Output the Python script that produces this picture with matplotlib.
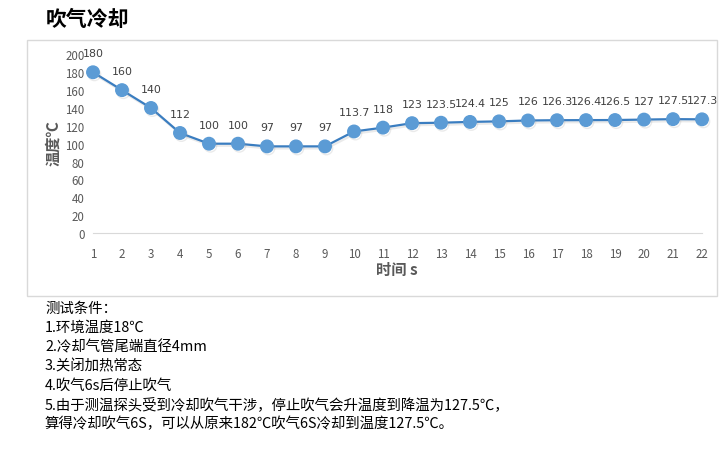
import matplotlib
matplotlib.use("Agg")
import matplotlib.pyplot as plt
import matplotlib.patheffects as pe
from matplotlib.patches import Rectangle

plt.rcParams['font.family'] = ['Noto Sans CJK SC', 'DejaVu Sans']

# data
seconds = list(range(1, 23))
temps = [180, 160, 140, 112, 100, 100, 97, 97, 97, 113.7, 118, 123, 123.5,
         124.4, 125, 126, 126.3, 126.4, 126.5, 127, 127.5, 127.3]
labels = ['180', '160', '140', '112', '100', '100', '97', '97', '97', '113.7',
          '118', '123', '123.5', '124.4', '125', '126', '126.3', '126.4',
          '126.5', '127', '127.5', '127.3']
y_ticks = list(range(0, 201, 20))

title = '吹气冷却'
notes = [
    '测试条件：',
    '1.环境温度18℃',
    '2.冷却气管尾端直径4mm',
    '3.关闭加热常态',
    '4.吹气6s后停止吹气',
    '5.由于测温探头受到冷却吹气干涉，停止吹气会升温度到降温为127.5℃，',
    '算得冷却吹气6S，可以从原来182℃吹气6S冷却到温度127.5℃。',
]

W, H = 728, 464
fig = plt.figure(figsize=(W / 100, H / 100), dpi=100)


def fx(px):
    return px / W


def fy(py):
    return 1 - py / H


# chart frame
fig.patches.append(Rectangle((fx(27), fy(297)), fx(717) - fx(27), fy(41) - fy(297),
                             transform=fig.transFigure, fill=False,
                             edgecolor='#D9D9D9', linewidth=1))

ax = fig.add_axes([fx(93), fy(234), fx(702) - fx(93), fy(55.4) - fy(234)])
ax.plot(seconds, temps, color='#3A7DC0', linewidth=1.6, marker='o',
        markersize=9, markerfacecolor='#5B9BD5', markeredgecolor='#5B9BD5',
        clip_on=False,
        path_effects=[pe.SimpleLineShadow(offset=(1, -1.5), shadow_color='#999999', alpha=0.2),
                      pe.Normal()])

for x, y, s in zip(seconds, temps, labels):
    ax.annotate(s, (x, y), xytext=(0, 19), textcoords='offset pixels',
                ha='center', va='center', fontsize=7.9, color='#404040',
                family=['DejaVu Sans'])

ax.set_xlim(1, 22)
ax.set_ylim(0, 200)
ax.set_xticks(seconds)
ax.set_yticks(y_ticks)
ax.tick_params(axis='both', length=0, labelsize=8.3, labelcolor='#595959')
ax.tick_params(axis='x', pad=10)
ax.tick_params(axis='y', pad=6)
for side in ['top', 'right', 'left']:
    ax.spines[side].set_visible(False)
ax.spines['bottom'].set_color('#D9D9D9')
ax.patch.set_alpha(0)

fig.text(fx(397), fy(270), '时间 s', ha='center', va='center', fontsize=11,
         fontweight='bold', color='#595959')
fig.text(fx(53), fy(143), '温度℃', ha='center', va='center', fontsize=11,
         fontweight='bold', color='#595959', rotation=90)

fig.text(fx(46), fy(20), title, ha='left', va='center', fontsize=15,
         fontweight='bold', color='black')

for i, line in enumerate(notes):
    fig.text(fx(45), fy(309 + i * 19.2), line, ha='left', va='center',
             fontsize=10.4, color='black')

fig.savefig('out.png', dpi=100)
